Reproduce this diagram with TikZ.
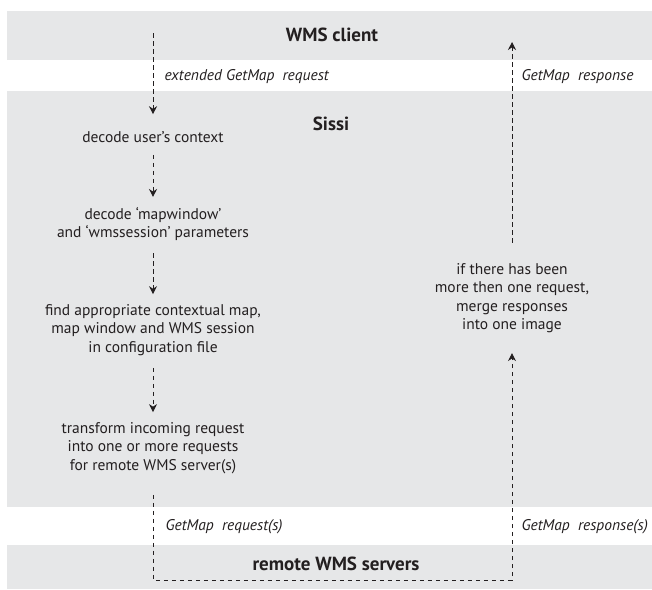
\documentclass[tikz,border=0pt]{standalone}
\usepackage{fontspec}
\setmainfont{PT Sans}
\usetikzlibrary{arrows.meta}
\definecolor{bandgray}{RGB}{230,231,232}
\definecolor{ink}{RGB}{35,31,32}
\tikzset{
  steptext/.style={align=center, inner sep=3pt, font=\fontsize{15.5}{18.5}\selectfont, text=ink},
  title/.style={font=\fontsize{19}{22}\selectfont\bfseries, text=ink},
  msg/.style={anchor=west, font=\fontsize{15.5}{18}\selectfont\itshape, text=ink},
  flow/.style={draw=ink, line width=0.9pt, dash pattern=on 4.5pt off 3.5pt,
    shorten <=9pt, shorten >=7pt, -{Stealth[length=8pt,width=8pt]}},
}
\begin{document}
\begin{tikzpicture}[x=1pt,y=-1pt]
  \useasboundingbox (0,0) rectangle (652,589);
  \fill[bandgray] (7,11) rectangle (652,60);
  \fill[bandgray] (7,91) rectangle (652,507);
  \fill[bandgray] (7,545) rectangle (652,589);

  \node[title] (client) at (332,35) {WMS client};
  \node[title] (sissi) at (331,124) {Sissi};
  \node[title] (remote) at (336,564) {remote WMS servers};

  \node[steptext] (context) at (153,137) {decode user's context};
  \node[steptext] (params) at (153,224) {decode `mapwindow'\\and `wmssession' parameters};
  \node[steptext] (config) at (153,330) {find appropriate contextual map,\\map window and WMS session\\in configuration file};
  \node[steptext] (transform) at (153,448) {transform incoming request\\into one or more requests\\for remote WMS server(s)};
  \node[steptext] (merge) at (512,298) {if there has been\\more then one request,\\merge responses\\into one image};

  \coordinate (reqstart) at (153,33);
  \coordinate (respend) at (512,42);
  \coordinate (cornerL) at (153,580);
  \coordinate (cornerR) at (512,580);

  \draw[flow, shorten <=0pt, shorten >=14pt] (reqstart) -- (context);
  \draw[flow] (context) -- (params);
  \draw[flow] (params) -- (config);
  \draw[flow] (config) -- (transform);
  \draw[flow, shorten <=18pt, shorten >=17pt] (transform) -- (cornerL) -- (cornerR) -- (merge);
  \draw[flow, shorten <=17pt, shorten >=0pt] (merge) -- (respend);

  \node[msg] (extreq) at (161,77) {extended GetMap~ request};
  \node[msg] (resp) at (518,77) {GetMap~ response};
  \node[msg] (reqs) at (162,527) {GetMap~ request(s)};
  \node[msg] (resps) at (518,527) {GetMap~ response(s)};
\end{tikzpicture}
\end{document}
